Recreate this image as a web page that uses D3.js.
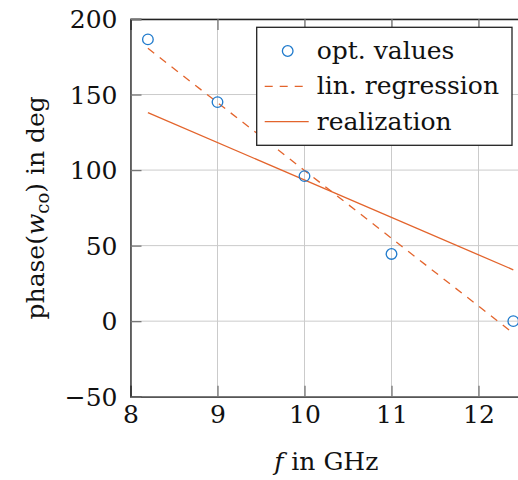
<!DOCTYPE html>
<html>
<head>
<meta charset="utf-8">
<script src="https://cdn.jsdelivr.net/npm/d3@7"></script>
<style>
  body { margin: 0; background: #fff; }
  text { font-family: "DejaVu Serif", serif; }
</style>
</head>
<body>
<svg width="518" height="480"></svg>
<script>
// data
var optFreq = [8.2, 9, 10, 11, 12.4];
var optPhase = [186.5, 145, 96, 44.5, 0];
var regFreq = [8.2, 12.4];
var regPhase = [180.6, -8];
var realFreq = [8.2, 12.4];
var realPhase = [138, 34];
var xTicks = [8, 9, 10, 11, 12];
var yTicks = [-50, 0, 50, 100, 150, 200];
var legendLabels = ["opt. values", "lin. regression", "realization"];

var blue = "#1f7acc", orange = "#e3642c";
var font = "'DejaVu Serif', serif";

var svg = d3.select("svg"),
    margin = {top: 19, left: 130.5},
    width = 391.5,   // 8 .. 12.5 GHz, right border runs off the page
    height = 377.7,
    g = svg.append("g").attr("transform", "translate(" + margin.left + "," + margin.top + ")");

var x = d3.scaleLinear().domain([8, 12.5]).range([0, width]);
var y = d3.scaleLinear().domain([-50, 200]).range([height, 0]);

// grid
g.append("g").selectAll("line").data(xTicks).enter().append("line")
    .attr("x1", function(d) { return x(d); }).attr("x2", function(d) { return x(d); })
    .attr("y1", 0).attr("y2", height)
    .attr("stroke", "#cbcbcb").attr("stroke-width", 1);
g.append("g").selectAll("line").data(yTicks).enter().append("line")
    .attr("y1", function(d) { return y(d); }).attr("y2", function(d) { return y(d); })
    .attr("x1", 0).attr("x2", width)
    .attr("stroke", "#cbcbcb").attr("stroke-width", 1);

// axes, ticks pointing inside
var xAxis = g.append("g")
    .attr("transform", "translate(0," + height + ")")
    .call(d3.axisBottom(x).tickValues(xTicks).tickSize(-11).tickPadding(21).tickFormat(d3.format("d")));
var xTop = g.append("g")
    .call(d3.axisTop(x).tickValues(xTicks).tickSize(-11).tickFormat(""));
var yAxis = g.append("g")
    .call(d3.axisLeft(y).tickValues(yTicks).tickSize(-11).tickPadding(13)
        .tickFormat(function(d) { return d < 0 ? "\u2212" + (-d) : d; }));

[xAxis, xTop, yAxis].forEach(function(a) {
    a.attr("font-family", font);
    a.select(".domain").attr("stroke", "#222").attr("stroke-width", 1.3);
    a.selectAll(".tick line").attr("stroke", "#777").attr("stroke-width", 1.3);
    a.selectAll(".tick text").attr("fill", "#111").style("font-size", "25px")
        .style("font-family", font);
});
xAxis.selectAll(".tick text").attr("dy", "0.2em");
yAxis.selectAll(".tick text").attr("dy", "0.35em");

// lines
var line = d3.line()
    .x(function(d) { return x(d[0]); })
    .y(function(d) { return y(d[1]); });

g.append("path")
    .datum(d3.zip(regFreq, regPhase))
    .attr("fill", "none")
    .attr("stroke", orange)
    .attr("stroke-width", 1.3)
    .attr("stroke-dasharray", "8,7")
    .attr("d", line);

g.append("path")
    .datum(d3.zip(realFreq, realPhase))
    .attr("fill", "none")
    .attr("stroke", orange)
    .attr("stroke-width", 1.3)
    .attr("d", line);

g.selectAll(".pt").data(d3.zip(optFreq, optPhase)).enter().append("circle")
    .attr("class", "pt")
    .attr("cx", function(d) { return x(d[0]); })
    .attr("cy", function(d) { return y(d[1]); })
    .attr("r", 5.3)
    .attr("fill", "none")
    .attr("stroke", blue)
    .attr("stroke-width", 1.3);

// axis labels
var xl = svg.append("text")
    .attr("x", margin.left + width / 2)
    .attr("y", 470)
    .attr("text-anchor", "middle")
    .style("font-size", "25px")
    .style("font-family", font)
    .attr("fill", "#111");
xl.append("tspan").attr("font-style", "italic").text("f");
xl.append("tspan").text(" in GHz");

var yl = svg.append("text")
    .attr("transform", "translate(44," + (margin.top + height / 2) + ") rotate(-90)")
    .attr("text-anchor", "middle")
    .style("font-size", "25px")
    .style("font-family", font)
    .attr("fill", "#111");
yl.append("tspan").text("phase(");
yl.append("tspan").attr("font-style", "italic").text("w");
yl.append("tspan").attr("dy", 5).style("font-size", "18px").text("co");
yl.append("tspan").attr("dy", -5).text(") in deg");

// legend
var leg = svg.append("g").attr("transform", "translate(256.7,27.3)");
leg.append("rect")
    .attr("width", 255.3).attr("height", 118)
    .attr("fill", "#fff").attr("stroke", "#222").attr("stroke-width", 1.3);

var rows = leg.selectAll(".row").data(legendLabels).enter().append("g")
    .attr("transform", function(d, i) { return "translate(0," + (23.7 + i * 35.3) + ")"; });

rows.append("text")
    .attr("x", 60).attr("dy", "0.32em")
    .style("font-size", "25px").style("font-family", font).attr("fill", "#111")
    .text(function(d) { return d; });

leg.append("circle")
    .attr("cx", 31).attr("cy", 23.7).attr("r", 5.3)
    .attr("fill", "none").attr("stroke", blue).attr("stroke-width", 1.3);
leg.append("line")
    .attr("x1", 8).attr("x2", 52).attr("y1", 59).attr("y2", 59)
    .attr("stroke", orange).attr("stroke-width", 1.3).attr("stroke-dasharray", "8,7");
leg.append("line")
    .attr("x1", 8).attr("x2", 52).attr("y1", 94.4).attr("y2", 94.4)
    .attr("stroke", orange).attr("stroke-width", 1.3);
</script>
</body>
</html>
